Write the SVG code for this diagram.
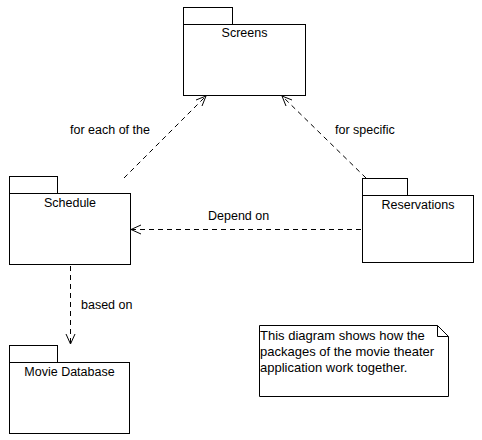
<svg xmlns="http://www.w3.org/2000/svg" width="482" height="440" viewBox="0 0 482 440">
<style>
.box{fill:#fff;stroke:#000;stroke-width:1}
.t{font-family:"Liberation Sans",Arial,sans-serif;font-size:12.5px;fill:#000}
.n{font-size:13px}
.c{fill:none;stroke:#000;stroke-width:1;stroke-dasharray:5,4}
.h{fill:none;stroke:#000;stroke-width:1}
</style>
<rect width="482" height="440" fill="#fff"/>
<g id="screens">
<rect class="box" x="183.5" y="7.5" width="49" height="17"/>
<rect class="box" x="183.5" y="24.5" width="122" height="71"/>
<text class="t" x="244.5" y="37" text-anchor="middle">Screens</text>
</g>
<g id="schedule">
<rect class="box" x="9.5" y="176.5" width="48" height="17"/>
<rect class="box" x="9.5" y="193.5" width="121" height="71"/>
<text class="t" x="70" y="207" text-anchor="middle">Schedule</text>
</g>
<g id="reservations">
<rect class="box" x="362.5" y="178.5" width="45" height="17"/>
<rect class="box" x="362.5" y="195.5" width="111" height="67"/>
<text class="t" x="418" y="209" text-anchor="middle">Reservations</text>
</g>
<g id="moviedb">
<rect class="box" x="9.5" y="345.5" width="48" height="17"/>
<rect class="box" x="9.5" y="362.5" width="120" height="71"/>
<text class="t" x="69.5" y="376" text-anchor="middle">Movie Database</text>
</g>
<g id="note">
<path class="box" d="M259.5,325.5 H437.5 L448.5,336.5 V396.5 H259.5 Z"/>
<path class="h" d="M437.5,325.5 V336.5 H448.5"/>
<text class="t n" x="260" y="340">This diagram shows how the</text>
<text class="t n" x="260" y="356">packages of the movie theater</text>
<text class="t n" x="260" y="372">application work together.</text>
</g>
<g id="connectors">
<line class="c" x1="124" y1="178" x2="206" y2="96"/>
<path class="h" d="M196,100 L206,96 L202,106"/>
<text class="t" x="70" y="134">for each of the</text>
<line class="c" x1="366" y1="178" x2="282" y2="96"/>
<path class="h" d="M286,106 L282,96 L292,100"/>
<text class="t" x="335" y="134">for specific</text>
<line class="c" x1="361" y1="229.5" x2="131" y2="229.5"/>
<path class="h" d="M141,225 L131,229.5 L141,234"/>
<text class="t" x="208" y="220">Depend on</text>
<line class="c" x1="70.5" y1="266" x2="70.5" y2="344"/>
<path class="h" d="M66,334 L70.5,344 L75,334"/>
<text class="t" x="81" y="309">based on</text>
</g>
</svg>
